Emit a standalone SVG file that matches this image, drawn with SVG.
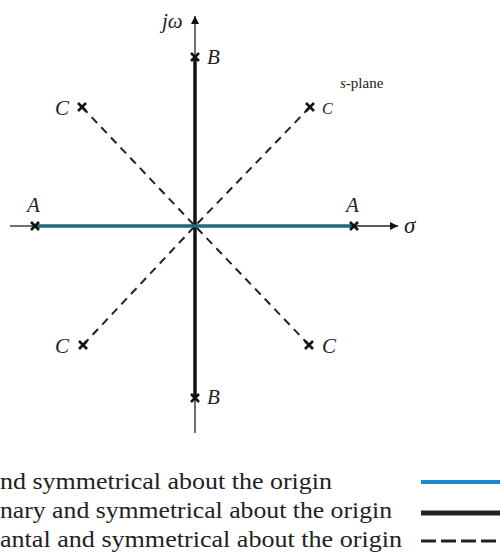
<svg xmlns="http://www.w3.org/2000/svg" width="500" height="555" viewBox="0 0 500 555">
<style>
.it{font-family:"Liberation Serif","Times New Roman",serif;font-style:italic;fill:#222}
.rm{font-family:"Liberation Serif","Times New Roman",serif;fill:#222}
.thin{stroke:#222;stroke-width:1.3;fill:none}
.dash{stroke:#222;stroke-width:2;stroke-dasharray:8 6;fill:none}
.x{stroke:#111;stroke-width:2.6;fill:none}
</style>
<defs>
<marker id="ah" viewBox="0 0 10 10" refX="10" refY="5" markerWidth="12" markerHeight="8" markerUnits="userSpaceOnUse" orient="auto">
<path d="M0,0 L10,5 L0,10 z" fill="#111"/>
</marker>
<g id="xm"><path class="x" d="M-4,-4 L4,4 M-4,4 L4,-4"/></g>
</defs>
<g id="connectors">
<line class="thin" x1="195" y1="57" x2="195" y2="16" marker-end="url(#ah)"/>
<line class="thin" x1="195" y1="398" x2="195" y2="433"/>
<line class="thin" x1="10" y1="226" x2="35" y2="226"/>
<line class="thin" x1="354" y1="226" x2="398" y2="226" marker-end="url(#ah)"/>
<line class="dash" x1="82" y1="107" x2="195" y2="226"/>
<line class="dash" x1="310" y1="107" x2="195" y2="226"/>
<line class="dash" x1="83" y1="345" x2="195" y2="226"/>
<line class="dash" x1="309" y1="345" x2="195" y2="226"/>
<line x1="195" y1="57" x2="195" y2="398" stroke="#111" stroke-width="3.5"/>
<line x1="35" y1="226" x2="354" y2="226" stroke="#1d6b78" stroke-width="3.5"/>
</g>
<g id="poleB1"><use href="#xm" x="195" y="57"/><text class="it" x="207" y="64" font-size="21">B</text></g>
<g id="poleB2"><use href="#xm" x="195" y="398"/><text class="it" x="207" y="404" font-size="21">B</text></g>
<g id="poleA1"><use href="#xm" x="35" y="226"/><text class="it" x="27" y="212" font-size="21">A</text></g>
<g id="poleA2"><use href="#xm" x="354" y="226"/><text class="it" x="346" y="212" font-size="21">A</text></g>
<g id="poleC1"><use href="#xm" x="82" y="107"/><text class="it" x="55" y="115" font-size="21">C</text></g>
<g id="poleC2"><use href="#xm" x="310" y="107"/><text class="it" x="322" y="114" font-size="16">C</text></g>
<g id="poleC3"><use href="#xm" x="83" y="345"/><text class="it" x="55" y="353" font-size="21">C</text></g>
<g id="poleC4"><use href="#xm" x="309" y="345"/><text class="it" x="322" y="353" font-size="21">C</text></g>
<text class="it" x="162" y="28" font-size="21">jω</text>
<text class="it" x="404" y="233" font-size="23">σ</text>
<text class="rm" x="340" y="88" font-size="15"><tspan font-style="italic">s</tspan>-plane</text>
<g id="legend">
<text class="rm" x="0" y="489" font-size="23" textLength="332" lengthAdjust="spacingAndGlyphs">nd symmetrical about the origin</text>
<text class="rm" x="0" y="518" font-size="23" textLength="392" lengthAdjust="spacingAndGlyphs">nary and symmetrical about the origin</text>
<text class="rm" x="0" y="547" font-size="23" textLength="402" lengthAdjust="spacingAndGlyphs">antal and symmetrical about the origin</text>
<line x1="421" y1="482" x2="500" y2="482" stroke="#1a8ad0" stroke-width="4"/>
<line x1="421" y1="513" x2="500" y2="513" stroke="#222" stroke-width="5"/>
<line x1="421" y1="541" x2="500" y2="541" stroke="#222" stroke-width="3" stroke-dasharray="15 5"/>
</g>
</svg>
